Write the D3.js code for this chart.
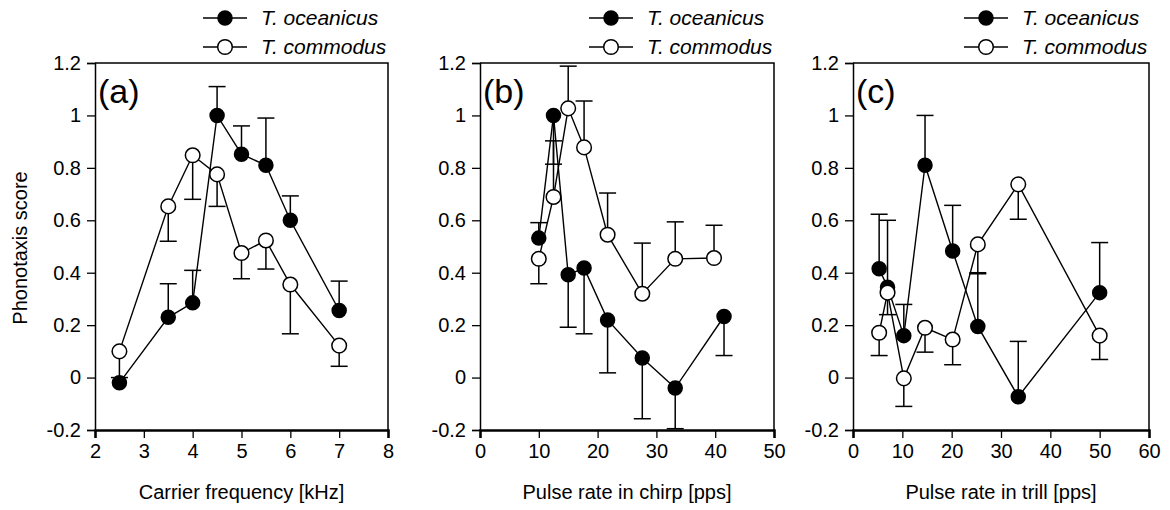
<!DOCTYPE html>
<html>
<head>
<meta charset="utf-8">
<script src="https://cdn.jsdelivr.net/npm/d3@7"></script>
<style>
  body { margin: 0; background: #fff; }
  svg { font-family: Arial, "Liberation Sans", sans-serif; }
  .tick text { font-size: 20px; fill: #000; }
</style>
</head>
<body>
<svg id="chart" width="1170" height="510"></svg>
<script>
// ---- datos ----
const seriesNames = ['T. oceanicus', 'T. commodus'];
const panelLabels = ['(a)', '(b)', '(c)'];
const xTitles = ['Carrier frequency [kHz]', 'Pulse rate in chirp [pps]', 'Pulse rate in trill [pps]'];
const yTicks = [-0.2, 0, 0.2, 0.4, 0.6, 0.8, 1, 1.2];
const xTicksA = [2, 3, 4, 5, 6, 7, 8];
const xTicksB = [0, 10, 20, 30, 40, 50];
const xTicksC = [0, 10, 20, 30, 40, 50, 60];

// (a) frecuencia portadora
const freqA = [2.5, 3.5, 4, 4.5, 5, 5.5, 6, 7];
const oceA = [-0.02, 0.23, 0.285, 1.0, 0.852, 0.81, 0.60, 0.256];
const oceCapA = [null, 0.358, 0.409, 1.11, 0.96, 0.99, 0.693, 0.368];
const comA = [0.10, 0.653, 0.848, 0.775, 0.475, 0.523, 0.355, 0.122];
const comCapA = [0.0, 0.52, 0.68, 0.653, 0.377, 0.414, 0.167, 0.043];

// (b) tasa de pulsos en chirp
const chirpOce = [10, 12.5, 15, 17.7, 21.7, 27.6, 33.2, 41.5];
const oceB = [0.532, 1.0, 0.392, 0.418, 0.22, 0.075, -0.04, 0.233];
const oceCapB = [0.591, 0.814, 0.192, 0.167, 0.018, -0.157, -0.195, 0.084];
const chirpCom = [10, 12.5, 15, 17.7, 21.7, 27.6, 33.2, 39.8];
const comB = [0.453, 0.689, 1.027, 0.878, 0.545, 0.32, 0.453, 0.456];
const comCapB = [0.358, 0.903, 1.188, 1.055, 0.704, 0.513, 0.594, 0.581];

// (c) tasa de pulsos en trill
const trill = [5.3, 7, 10.3, 14.6, 20.2, 25.3, 33.5, 50];
const oceC = [0.415, 0.345, 0.16, 0.81, 0.483, 0.195, -0.073, 0.324];
const oceCapC = [0.623, 0.60, 0.279, 1.0, 0.657, 0.396, 0.138, 0.515];
const comC = [0.171, 0.324, -0.003, 0.19, 0.145, 0.508, 0.737, 0.16];
const comCapC = [0.084, 0.24, -0.11, 0.097, 0.049, 0.40, 0.604, 0.069];

// ---- composición ----
const svg = d3.select('#chart');
const plotTop = 63, plotBottom = 430;

const panels = [
  { left: 95, right: 388, domain: [2, 8], ticks: xTicksA,
    series: [ { x: freqA, y: oceA, cap: oceCapA }, { x: freqA, y: comA, cap: comCapA } ] },
  { left: 480, right: 774, domain: [0, 50], ticks: xTicksB,
    series: [ { x: chirpOce, y: oceB, cap: oceCapB }, { x: chirpCom, y: comB, cap: comCapB } ] },
  { left: 853, right: 1149, domain: [0, 60], ticks: xTicksC,
    series: [ { x: trill, y: oceC, cap: oceCapC }, { x: trill, y: comC, cap: comCapC } ] }
];

const y = d3.scaleLinear().domain([-0.2, 1.2]).range([plotBottom, plotTop]);
const fmt = d => String(+d.toFixed(1));

panels.forEach((p, pi) => {
  const x = d3.scaleLinear().domain(p.domain).range([p.left, p.right]);
  const g = svg.append('g');

  // marco superior y derecho
  g.append('path')
    .attr('d', `M${p.left},${plotTop}H${p.right}V${plotBottom}`)
    .attr('fill', 'none').attr('stroke', '#000').attr('stroke-width', 1.5);

  // eje Y
  const yAxis = g.append('g')
    .attr('transform', `translate(${p.left},0)`)
    .call(d3.axisLeft(y).tickValues(yTicks).tickFormat(fmt).tickSize(8).tickPadding(6));
  yAxis.select('.domain').attr('stroke-width', 1.5);
  yAxis.selectAll('.tick line').attr('stroke-width', 1.3);

  // eje X
  const xAxis = g.append('g')
    .attr('transform', `translate(0,${plotBottom})`)
    .call(d3.axisBottom(x).tickValues(p.ticks).tickFormat(d => String(d)).tickSize(8).tickPadding(6));
  xAxis.select('.domain').attr('stroke-width', 2.5);
  xAxis.selectAll('.tick line').attr('stroke-width', 1.3);

  // título X
  g.append('text')
    .attr('x', (p.left + p.right) / 2).attr('y', 499)
    .attr('text-anchor', 'middle').attr('font-size', 20)
    .text(xTitles[pi]);

  // etiqueta del panel
  g.append('text')
    .attr('x', p.left + 3).attr('y', 103)
    .attr('font-size', 34)
    .text(panelLabels[pi]);

  // series
  p.series.forEach((s, si) => {
    const pts = s.x.map((d, i) => ({ x: d, y: s.y[i], cap: s.cap[i] }));
    const line = d3.line().x(d => x(d.x)).y(d => y(d.y));

    g.append('path')
      .datum(pts)
      .attr('fill', 'none').attr('stroke', '#000').attr('stroke-width', 1.4)
      .attr('d', line);

    const eb = g.append('g').selectAll('g')
      .data(pts.filter(d => d.cap !== null))
      .enter().append('g');
    eb.append('line')
      .attr('x1', d => x(d.x)).attr('x2', d => x(d.x))
      .attr('y1', d => y(d.y)).attr('y2', d => y(d.cap))
      .attr('stroke', '#000').attr('stroke-width', 1.5);
    eb.append('line')
      .attr('x1', d => x(d.x) - 8.5).attr('x2', d => x(d.x) + 8.5)
      .attr('y1', d => y(d.cap)).attr('y2', d => y(d.cap))
      .attr('stroke', '#000').attr('stroke-width', 1.5);

    g.append('g').selectAll('circle')
      .data(pts)
      .enter().append('circle')
      .attr('cx', d => x(d.x)).attr('cy', d => y(d.y))
      .attr('r', si === 0 ? 7 : 7.3)
      .attr('fill', si === 0 ? '#000' : '#fff')
      .attr('stroke', '#000').attr('stroke-width', 1.5);
  });

  // leyenda
  seriesNames.forEach((name, si) => {
    const ly = 18 + si * 29;
    const cx = p.right - 163;
    g.append('line')
      .attr('x1', cx - 22).attr('x2', cx + 22)
      .attr('y1', ly).attr('y2', ly)
      .attr('stroke', '#000').attr('stroke-width', 1.4);
    g.append('circle')
      .attr('cx', cx).attr('cy', ly).attr('r', si === 0 ? 7 : 7.3)
      .attr('fill', si === 0 ? '#000' : '#fff')
      .attr('stroke', '#000').attr('stroke-width', 1.5);
    g.append('text')
      .attr('x', p.right - 127).attr('y', ly).attr('dy', '0.35em')
      .attr('font-size', 21).attr('font-style', 'italic')
      .text(name);
  });
});

// título Y común
svg.append('text')
  .attr('transform', 'translate(20,248) rotate(-90)')
  .attr('text-anchor', 'middle').attr('dy', '0.35em').attr('font-size', 20)
  .text('Phonotaxis score');
</script>
</body>
</html>
